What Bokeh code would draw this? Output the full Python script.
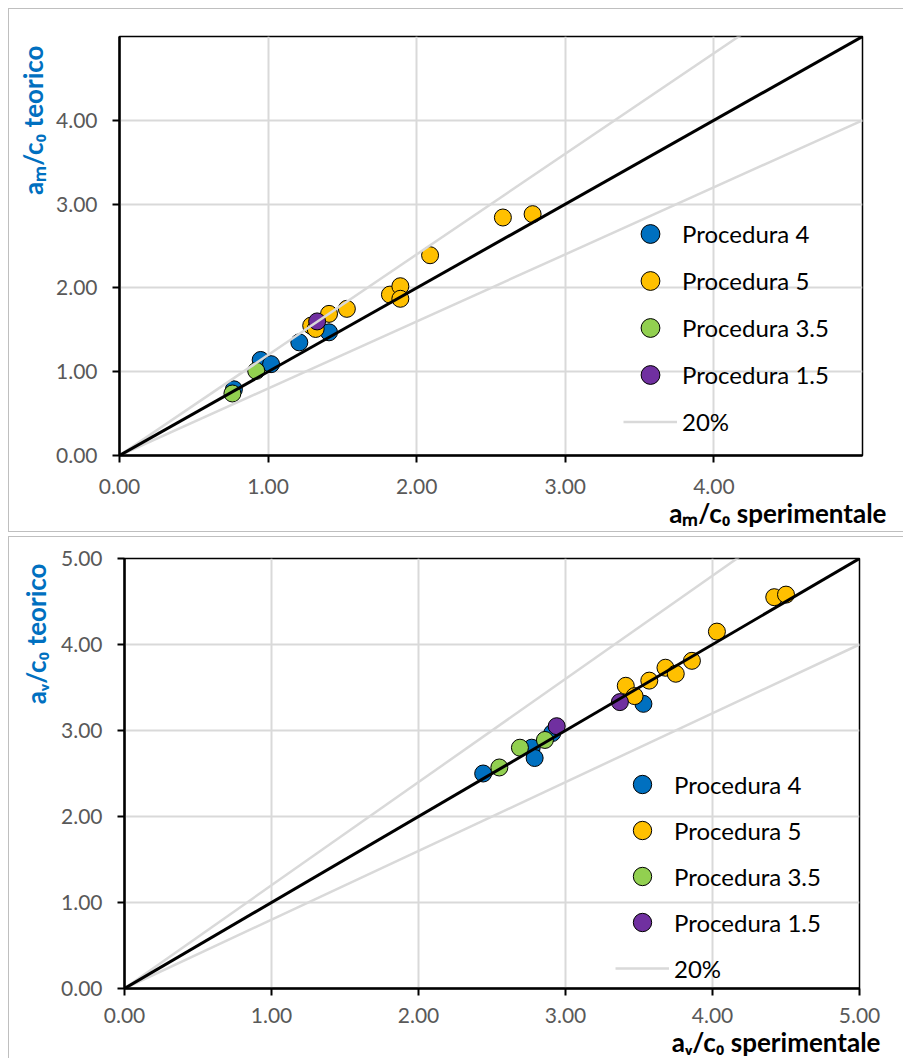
from bokeh.plotting import figure
from bokeh.models import (Range1d, FixedTicker, PrintfTickFormatter,
                          Legend, LegendItem, Title)
from bokeh.embed import file_html
from bokeh.resources import INLINE

# ---------------- data ----------------
series_names = ["Procedura 4", "Procedura 5", "Procedura 3.5", "Procedura 1.5"]
series_colors = ["#0070C0", "#FFC000", "#92D050", "#7030A0"]
band_label = "20%"

# chart 1: a_m/c_0
am_title_x = "aₘ/c₀ sperimentale"
am_title_y = "aₘ/c₀ teorico"
am_p4_x = [0.77, 0.95, 1.02, 1.21, 1.41]
am_p4_y = [0.79, 1.14, 1.09, 1.35, 1.47]
am_p5_x = [1.29, 1.32, 1.41, 1.53, 1.82, 1.89, 1.89, 2.09, 2.58, 2.78]
am_p5_y = [1.55, 1.51, 1.69, 1.75, 1.92, 2.02, 1.87, 2.39, 2.84, 2.88]
am_p35_x = [0.76, 0.92]
am_p35_y = [0.74, 1.01]
am_p15_x = [1.33]
am_p15_y = [1.60]
am_ticks = [0, 1, 2, 3, 4]

# chart 2: a_v/c_0
av_title_x = "aᵥ/c₀ sperimentale"
av_title_y = "aᵥ/c₀ teorico"
av_p4_x = [2.44, 2.77, 2.79, 2.91, 3.53]
av_p4_y = [2.50, 2.80, 2.68, 2.97, 3.31]
av_p5_x = [3.41, 3.47, 3.57, 3.68, 3.75, 3.86, 4.03, 4.42, 4.50]
av_p5_y = [3.52, 3.40, 3.58, 3.73, 3.66, 3.81, 4.15, 4.55, 4.58]
av_p35_x = [2.55, 2.69, 2.86]
av_p35_y = [2.57, 2.80, 2.89]
av_p15_x = [2.94, 3.37]
av_p15_y = [3.05, 3.33]
av_ticks = [0, 1, 2, 3, 4, 5]

# reference lines: 1:1 and +/-20%
ref_x = [0, 5]
ref_y = [0, 5]
band_hi_y = [0, 6]
band_lo_y = [0, 4]


def make_chart(width, height, borders, ticks, series, titles,
               legend_loc, legend_row, x_standoff, xt_offset, yt_offset,
               yt_standoff, css):
    bl, br, bt, bb = borders
    p = figure(width=width, height=height, output_backend="svg",
               toolbar_location=None, x_range=Range1d(0, 5),
               y_range=Range1d(0, 5), min_border_left=bl,
               min_border_right=br, min_border_top=bt, min_border_bottom=bb,
               background_fill_color="white", border_fill_color="white",
               styles=css)
    p.outline_line_color = "black"
    p.outline_line_width = 1.5
    for ax in (p.xaxis[0], p.yaxis[0]):
        ax.ticker = FixedTicker(ticks=ticks)
        ax.formatter = PrintfTickFormatter(format="%.2f")
        ax.axis_line_color = "black"
        ax.axis_line_width = 2.5
        ax.major_tick_line_color = "black"
        ax.major_tick_line_width = 2
        ax.major_tick_in = 0
        ax.major_tick_out = 7
        ax.minor_tick_line_color = None
        ax.major_label_text_font = "Lato"
        ax.major_label_text_font_size = "21px"
        ax.major_label_text_color = "#595959"
    p.xaxis[0].major_label_standoff = x_standoff
    p.yaxis[0].major_label_standoff = 15
    for g in (p.xgrid[0], p.ygrid[0]):
        g.ticker = FixedTicker(ticks=ticks)
        g.grid_line_color = "#D9D9D9"
        g.grid_line_width = 2

    # axis titles
    p.add_layout(Title(text=titles[0], align="right", offset=xt_offset,
                       vertical_align="top", standoff=0,
                       text_font="Lato", text_font_size="26px",
                       text_font_style="bold", text_color="black"), "below")
    p.add_layout(Title(text=titles[1], align="right", offset=yt_offset,
                       vertical_align="bottom", standoff=yt_standoff,
                       text_font="Lato", text_font_size="26px",
                       text_font_style="bold", text_color="#0070C0"), "left")

    items = []
    for (xs, ys), name, col in zip(series, series_names, series_colors):
        r = p.scatter(xs, ys, size=17, fill_color=col, line_color="black",
                      line_width=1)
        items.append(LegendItem(label=name, renderers=[r]))
    rb = p.multi_line([ref_x, ref_x], [band_hi_y, band_lo_y],
                      line_color="#D9D9D9", line_width=2.5)
    p.line(ref_x, ref_y, line_color="black", line_width=3)
    items.append(LegendItem(label=band_label, renderers=[rb]))

    leg = Legend(items=items, location=legend_loc, orientation="vertical",
                 glyph_width=54, glyph_height=legend_row, label_height=legend_row,
                 label_standoff=5, spacing=0, padding=0, margin=0,
                 border_line_alpha=0, background_fill_alpha=0,
                 label_text_font="Lato", label_text_font_size="24px",
                 label_text_color="black")
    p.add_layout(leg)
    return p


box_top = {"border-left": "1px solid #BFBFBF", "border-top": "1px solid #BFBFBF",
           "border-bottom": "1px solid #BFBFBF",
           "margin-left": "8px", "margin-top": "8px"}
box_bottom = {"border-left": "1px solid #BFBFBF", "border-top": "1px solid #BFBFBF",
              "margin-left": "8px", "margin-top": "4px"}

p1 = make_chart(895, 524, (110, 42, 27, 78), am_ticks,
                [(am_p4_x, am_p4_y), (am_p5_x, am_p5_y),
                 (am_p35_x, am_p35_y), (am_p15_x, am_p15_y)],
                (am_title_x, am_title_y), (504, 10), 47, 16, -24, 9, 9,
                box_top)

p2 = make_chart(895, 522, (115, 45, 21, 71), av_ticks,
                [(av_p4_x, av_p4_y), (av_p5_x, av_p5_y),
                 (av_p35_x, av_p35_y), (av_p15_x, av_p15_y)],
                (av_title_x, av_title_y), (491, -3), 46, 12, -21, 5, 14,
                box_bottom)

open("out.html", "w").write(file_html((p1, p2), INLINE))
